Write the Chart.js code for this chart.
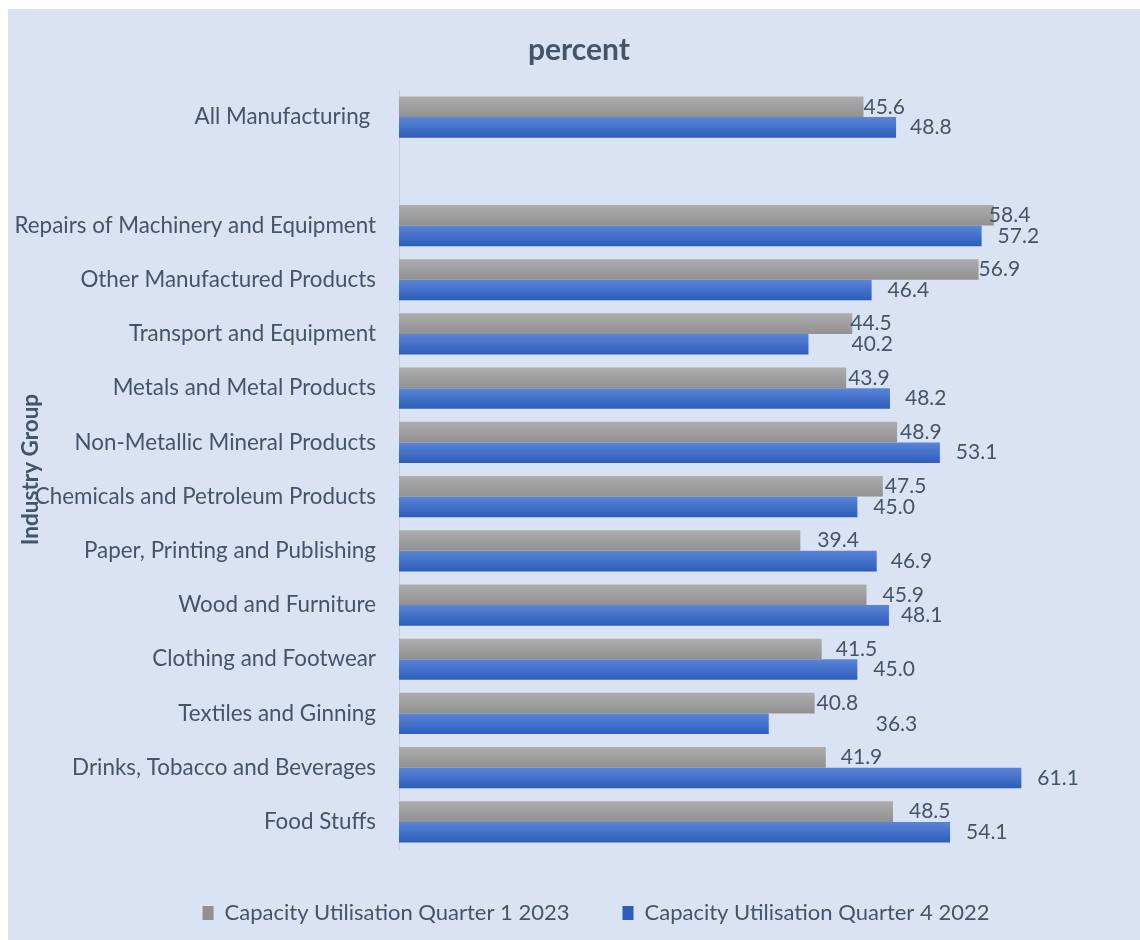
<!DOCTYPE html>
<html>
<head>
<meta charset="utf-8">
<script src="https://cdn.jsdelivr.net/npm/chart.js@4"></script>
<style>
  html, body { margin: 0; padding: 0; background: #ffffff; }
  #frame { position: absolute; left: 8px; top: 9px; width: 1132px; height: 931px; background: #dae3f3; }
  #chart { display: block; }
</style>
</head>
<body>
<div id="frame"><canvas id="chart" width="1132" height="931"></canvas></div>
<script>
// Industry groups, top to bottom (blank row separates the aggregate)
const categories = [
  'All Manufacturing ', '',
  'Repairs of Machinery and Equipment', 'Other Manufactured Products',
  'Transport and Equipment', 'Metals and Metal Products',
  'Non-Metallic Mineral Products', 'Chemicals and Petroleum Products',
  'Paper, Printing and Publishing', 'Wood and Furniture',
  'Clothing and Footwear', 'Textiles and Ginning',
  'Drinks, Tobacco and Beverages', 'Food Stuffs'
];
const seriesNames = ['Capacity Utilisation Quarter 1 2023', 'Capacity Utilisation Quarter 4 2022'];
const q1_2023 = [45.6, null, 58.4, 56.9, 44.5, 43.9, 48.9, 47.5, 39.4, 45.9, 41.5, 40.8, 41.9, 48.5];
const q4_2022 = [48.8, null, 57.2, 46.4, 40.2, 48.2, 53.1, 45.0, 46.9, 48.1, 45.0, 36.3, 61.1, 54.1];

// Horizontal offsets (px) of each value label from its bar end
const labelNudgeQ1 = [0, 0, -5, 0, -2, 2, 3, 2, 17, 16, 14, 2, 15, 16];
const labelNudgeQ4 = [14, 0, 16, 16, 43, 15, 16, 16, 14, 12, 16, 107, 16, 16];

const FONT = 'Lato, "Open Sans", sans-serif';
const TEXT = '#44546a';
const CAT_PCT = 0.76;
const palettes = [
  { top: '#adadad', bottom: '#919191', solid: '#a2a2a2' },
  { top: '#5b85d6', bottom: '#2d5cbb', solid: '#3d6cc8' }
];

function barFill(context, dsIndex) {
  const pal = palettes[dsIndex];
  const chart = context.chart;
  const y = chart.scales && chart.scales.y;
  if (context.type !== 'data' || !chart.chartArea || !y) return pal.solid;
  const center = y.getPixelForValue(context.dataIndex);
  const pitch = y.getPixelForValue(1) - y.getPixelForValue(0);
  const barH = pitch * CAT_PCT / 2;
  const top = center - pitch * CAT_PCT / 2 + dsIndex * barH;
  const g = chart.ctx.createLinearGradient(0, top, 0, top + barH);
  g.addColorStop(0, pal.top);
  g.addColorStop(1, pal.bottom);
  return g;
}

const valueLabels = {
  id: 'valueLabels',
  afterDatasetsDraw(chart) {
    const ctx = chart.ctx;
    const nudges = [labelNudgeQ1, labelNudgeQ4];
    ctx.save();
    ctx.font = '21px ' + FONT;
    ctx.fillStyle = TEXT;
    ctx.textAlign = 'left';
    ctx.textBaseline = 'middle';
    chart.data.datasets.forEach((ds, di) => {
      const meta = chart.getDatasetMeta(di);
      meta.data.forEach((bar, i) => {
        const v = ds.data[i];
        if (v === null || v === undefined) return;
        ctx.fillText(v.toFixed(1), bar.x + nudges[di][i], bar.y);
      });
    });
    ctx.restore();
  }
};

// Title and legend sit a little right of the canvas centre
const boxShift = {
  id: 'boxShift',
  afterLayout(chart) {
    if (chart.legend) { chart.legend.left += 32; chart.legend.right += 32; }
    if (chart.titleBlock) { chart.titleBlock.left += 15; chart.titleBlock.right += 15; }
  }
};

new Chart(document.getElementById('chart'), {
  type: 'bar',
  data: {
    labels: categories,
    datasets: [
      { label: seriesNames[0], data: q1_2023, backgroundColor: c => barFill(c, 0), borderWidth: 0 },
      { label: seriesNames[1], data: q4_2022, backgroundColor: c => barFill(c, 1), borderWidth: 0 }
    ]
  },
  options: {
    indexAxis: 'y',
    responsive: false,
    animation: false,
    devicePixelRatio: 1,
    categoryPercentage: CAT_PCT,
    barPercentage: 1.0,
    layout: { padding: { left: 8, right: 28, top: 0, bottom: 6 } },
    scales: {
      x: { display: false, min: 0, max: 70 },
      y: {
        grid: { display: false, drawTicks: false },
        border: { display: true, color: 'rgba(190,196,206,0.7)', width: 1 },
        ticks: { color: TEXT, font: { family: FONT, size: 22.4 }, padding: 23, autoSkip: false },
        title: { display: true, text: 'Industry Group', color: TEXT, font: { family: FONT, size: 22.5, weight: 'bold' }, padding: { top: 1, bottom: 0 } },
        afterFit(scale) { scale.width = 383; }
      }
    },
    plugins: {
      title: {
        display: true, text: 'percent', color: TEXT,
        font: { family: FONT, size: 30, weight: 'bold' },
        padding: { top: 23, bottom: 22 }
      },
      legend: {
        position: 'bottom',
        labels: {
          color: TEXT, font: { family: FONT, size: 22 },
          boxWidth: 11, boxHeight: 14, padding: 53
        }
      },
      tooltip: { enabled: false }
    }
  },
  plugins: [valueLabels, boxShift]
});
</script>
</body>
</html>
